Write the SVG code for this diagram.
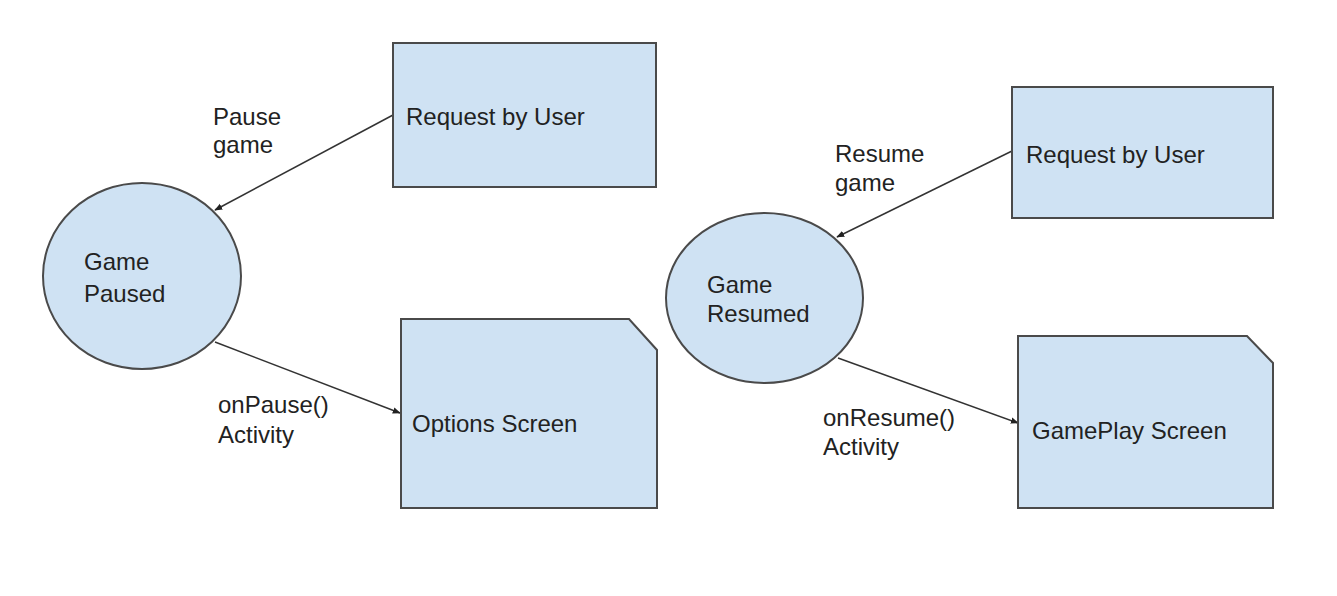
<svg xmlns="http://www.w3.org/2000/svg" width="1337" height="596" viewBox="0 0 1337 596">
<style>
.shape{fill:#cfe2f3;stroke:#4a4a4a;stroke-width:2}
.lbl{font-family:"Liberation Sans",Arial,sans-serif;font-size:24px;fill:#222222}
.conn{stroke:#333333;stroke-width:1.5;fill:none;marker-end:url(#arrow)}
</style>
<defs>
<marker id="arrow" viewBox="0 0 10 10" refX="9" refY="5" markerWidth="8" markerHeight="8" markerUnits="userSpaceOnUse" orient="auto">
<path d="M0,1 L10,5 L0,9 z" fill="#222222"/>
</marker>
</defs>
<rect width="1337" height="596" fill="#ffffff"/>
<g id="connectors">
<line class="conn" x1="393" y1="115" x2="215" y2="210"/>
<line class="conn" x1="215" y1="342" x2="400" y2="413"/>
<line class="conn" x1="1012" y1="151" x2="837" y2="237"/>
<line class="conn" x1="838" y1="358" x2="1018" y2="423"/>
</g>
<g id="req-left">
<rect class="shape" x="393" y="43" width="263" height="144"/>
<text class="lbl" x="406" y="125">Request by User</text>
</g>
<g id="game-paused">
<ellipse class="shape" cx="142" cy="276" rx="99" ry="93"/>
<text class="lbl" x="84" y="270">Game</text>
<text class="lbl" x="84" y="302">Paused</text>
</g>
<g id="options-screen">
<path class="shape" d="M401,319 L629,319 L657,350 L657,508 L401,508 Z"/>
<text class="lbl" x="412" y="432">Options Screen</text>
</g>
<g id="req-right">
<rect class="shape" x="1012" y="87" width="261" height="131"/>
<text class="lbl" x="1026" y="163">Request by User</text>
</g>
<g id="game-resumed">
<ellipse class="shape" cx="764.5" cy="298" rx="98.5" ry="85"/>
<text class="lbl" x="707" y="293">Game</text>
<text class="lbl" x="707" y="322">Resumed</text>
</g>
<g id="gameplay-screen">
<path class="shape" d="M1018,336 L1247,336 L1273,363 L1273,508 L1018,508 Z"/>
<text class="lbl" x="1032" y="439">GamePlay Screen</text>
</g>
<g id="edge-labels">
<text class="lbl" x="213" y="125">Pause</text>
<text class="lbl" x="213" y="153">game</text>
<text class="lbl" x="218" y="413">onPause()</text>
<text class="lbl" x="218" y="443">Activity</text>
<text class="lbl" x="835" y="162">Resume</text>
<text class="lbl" x="835" y="191">game</text>
<text class="lbl" x="823" y="426">onResume()</text>
<text class="lbl" x="823" y="455">Activity</text>
</g>
</svg>
